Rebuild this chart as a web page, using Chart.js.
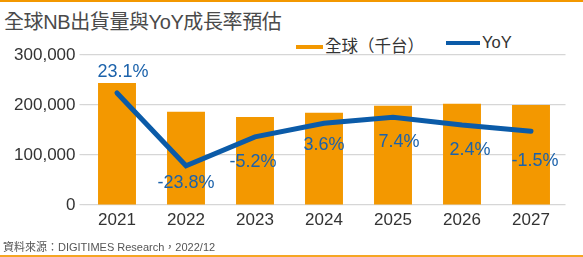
<!DOCTYPE html>
<html>
<head>
<meta charset="utf-8">
<script src="https://cdn.jsdelivr.net/npm/chart.js@4.4.1/dist/chart.umd.min.js"></script>
<style>
  html, body { margin: 0; padding: 0; background: #fff; }
  #wrap { position: relative; width: 583px; height: 257px; overflow: hidden; font-family: "Liberation Sans", "Noto Sans CJK TC", sans-serif; }
  #topbar { position: absolute; left: 0; top: 0; width: 583px; height: 2px; background: #f39800; }
  #botbar { position: absolute; left: 0; top: 255px; width: 583px; height: 2px; background: #f5a623; }
  #title { position: absolute; left: 4px; top: 6px; font-size: 20px; color: #4a4a4a; white-space: nowrap; letter-spacing: -0.4px; }
  #source { position: absolute; left: 3px; top: 238px; font-size: 11px; color: #555; white-space: nowrap; }
  .leg { position: absolute; top: 33px; font-size: 16.5px; color: #333; white-space: nowrap; }
  .leg .sw { display: inline-block; height: 4px; vertical-align: middle; margin-right: 2px; position: relative; top: -1px; }
  canvas { position: absolute; left: 0; top: 0; }
</style>
</head>
<body>
<div id="wrap">
  <div id="topbar"></div>
  <div id="title">全球NB出貨量與YoY成長率預估</div>
  <div class="leg" style="left:296px;"><span class="sw" style="width:27px;background:#f39800;"></span>全球（千台）</div>
  <div class="leg" style="left:446px;"><span class="sw" style="width:34px;background:#0b5ba8;"></span>YoY</div>
  <canvas id="c" width="583" height="257"></canvas>
  <div id="source">資料來源：DIGITIMES Research，2022/12</div>
  <div id="botbar"></div>
</div>
<script>
const categories = ["2021", "2022", "2023", "2024", "2025", "2026", "2027"];
const shipments = [244000, 186500, 176000, 184500, 198500, 202500, 200000];
const yoy = [23.1, -23.8, -5.2, 3.6, 7.4, 2.4, -1.5];
const yTicks = [0, 100000, 200000, 300000];

const labelDy = [-21, 17, 25, 22, 25, 25, 30];
const labelDx = [6, 0, -2, 0, 6, 8, 4];

const yoyLabels = {
  id: 'yoyLabels',
  afterDatasetsDraw(chart) {
    const meta = chart.getDatasetMeta(1);
    const ctx = chart.ctx;
    ctx.save();
    ctx.font = '18px "Liberation Sans", Arial, sans-serif';
    ctx.fillStyle = '#1b62ab';
    ctx.textAlign = 'center';
    ctx.textBaseline = 'middle';
    meta.data.forEach((pt, i) => {
      ctx.fillText(yoy[i].toFixed(1) + '%', pt.x + labelDx[i], pt.y + labelDy[i]);
    });
    ctx.restore();
  }
};

new Chart(document.getElementById('c'), {
  data: {
    labels: categories,
    datasets: [
      {
        type: 'bar',
        label: '全球（千台）',
        data: shipments,
        backgroundColor: '#f39800',
        barPercentage: 0.55,
        categoryPercentage: 1,
        yAxisID: 'y',
        order: 1
      },
      {
        type: 'line',
        label: 'YoY',
        data: yoy,
        borderColor: '#0b5ba8',
        borderWidth: 5,
        pointRadius: 0,
        tension: 0,
        borderCapStyle: 'round',
        yAxisID: 'y1',
        order: 0
      }
    ]
  },
  options: {
    responsive: false,
    animation: false,
    events: [],
    layout: { padding: { top: 55, right: 17.5, bottom: 0, left: 0 } },
    plugins: { legend: { display: false }, tooltip: { enabled: false } },
    scales: {
      x: {
        grid: { display: false, drawTicks: false },
        border: { display: false },
        ticks: { font: { size: 17, family: '"Liberation Sans", Arial, sans-serif' }, color: '#333', padding: 5 },
        afterFit(s) { s.height = 52; }
      },
      y: {
        min: 0, max: 300000,
        afterBuildTicks(s) { s.ticks = yTicks.map(v => ({ value: v })); },
        grid: { color: '#d6d6d6', lineWidth: 1.2, tickLength: 3 },
        border: { display: false },
        ticks: {
          font: { size: 17, family: '"Liberation Sans", Arial, sans-serif' },
          color: '#333',
          padding: 4,
          callback: v => v.toLocaleString('en-US')
        },
        afterFit(s) { s.width = 82.5; }
      },
      y1: {
        display: false,
        min: -49, max: 47.5
      }
    }
  },
  plugins: [yoyLabels]
});
</script>
</body>
</html>
